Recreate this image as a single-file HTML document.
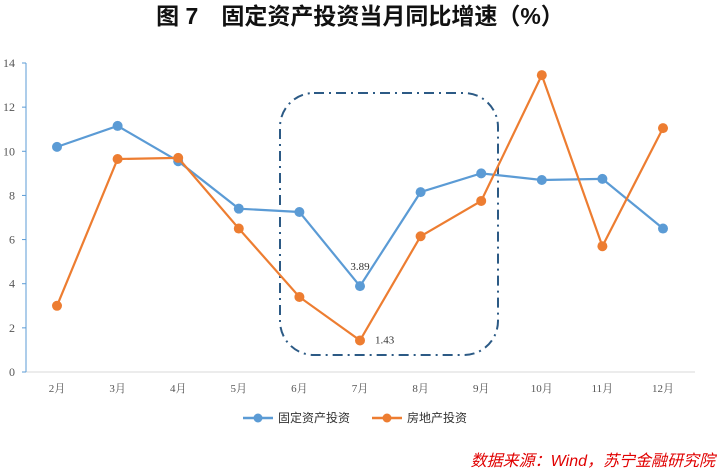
<!DOCTYPE html>
<html><head><meta charset="utf-8"><style>
body{margin:0;background:#fff;width:718px;height:472px;overflow:hidden}
svg{display:block;font-family:"Liberation Serif","Noto Serif CJK SC",serif}
</style></head><body>
<svg id="c" width="718" height="472">
<text x="360" y="24" text-anchor="middle" font-size="23" font-weight="bold" fill="#111" font-family="'Liberation Sans','Noto Sans CJK SC',sans-serif">图 7　固定资产投资当月同比增速（%）</text>
<g id="axes"></g>
<rect x="280" y="93" width="218" height="262" rx="34" ry="34" fill="none" stroke="#2c5a85" stroke-width="2" stroke-dasharray="10,5,2,5"/>
<g id="series"></g>
<g font-family="'Liberation Sans','Noto Sans CJK SC',sans-serif" font-size="12" fill="#333">
<g><line x1="243" y1="418" x2="273" y2="418" stroke="#5b9bd5" stroke-width="2.5"/><circle cx="258" cy="418" r="4.5" fill="#5b9bd5"/><text x="278" y="422">固定资产投资</text></g>
<g><line x1="372" y1="418" x2="402" y2="418" stroke="#ed7d31" stroke-width="2.5"/><circle cx="387" cy="418" r="4.5" fill="#ed7d31"/><text x="407" y="422">房地产投资</text></g>
</g>
<text x="715" y="466" text-anchor="end" font-size="16" font-style="italic" fill="#e00000" font-family="'Liberation Sans','Noto Sans CJK SC',sans-serif">数据来源：Wind，苏宁金融研究院</text>
</svg>
<script>
const categories=["2月","3月","4月","5月","6月","7月","8月","9月","10月","11月","12月"];
const fixedAsset=[10.2,11.15,9.55,7.4,7.25,3.89,8.15,9.0,8.7,8.75,6.5];
const realEstate=[3.0,9.65,9.7,6.5,3.4,1.43,6.15,7.75,13.45,5.7,11.05];
const yTicks=[0,2,4,6,8,10,12,14];
const NS="http://www.w3.org/2000/svg";
const x0=57,dx=60.6,yBase=372,yTop=63,yMax=14;
const xs=i=>x0+i*dx;
const ys=v=>yBase-(v/yMax)*(yBase-yTop);
function mk(t,a,p){const e=document.createElementNS(NS,t);for(const k in a)e.setAttribute(k,a[k]);p.appendChild(e);return e;}
const ax=document.getElementById('axes');
let l=mk('line',{x1:26,y1:ys(0),x2:695,y2:ys(0),stroke:'#d9d9d9','stroke-width':1},ax);


l=mk('line',{x1:26,y1:yTop,x2:26,y2:yBase,stroke:'#5b9bd5','stroke-width':1},ax);


yTicks.forEach(v=>{
 mk('line',{x1:22,y1:ys(v),x2:26,y2:ys(v),stroke:'#5b9bd5'},ax);
 const t=mk('text',{x:15,y:ys(v)+4,'text-anchor':'end','font-size':12,fill:'#555'},ax);t.textContent=v;
 
 
});
categories.forEach((c,i)=>{
 const t=mk('text',{x:xs(i),y:392,'text-anchor':'middle','font-size':11,fill:'#555'},ax);t.textContent=c;
 
 
});
const sg=document.getElementById('series');
function draw(vals,col,name){
 const g=mk('g',{},sg);
 
 
 mk('polyline',{points:vals.map((v,i)=>xs(i)+','+ys(v)).join(' '),fill:'none',stroke:col,'stroke-width':2.2},g);
 vals.forEach((v,i)=>{const c=mk('circle',{cx:xs(i),cy:ys(v),r:5,fill:col},g);
 
 });
}
draw(fixedAsset,'#5b9bd5','fixed-asset-series');
draw(realEstate,'#ed7d31','real-estate-series');
let t=mk('text',{x:xs(5),y:ys(fixedAsset[5])-16,'text-anchor':'middle','font-size':11,fill:'#333'},sg);t.textContent=fixedAsset[5].toFixed(2);


t=mk('text',{x:xs(5)+15,y:ys(realEstate[5])+3,'font-size':11,fill:'#333'},sg);t.textContent=realEstate[5].toFixed(2);


</script>
</body></html>
